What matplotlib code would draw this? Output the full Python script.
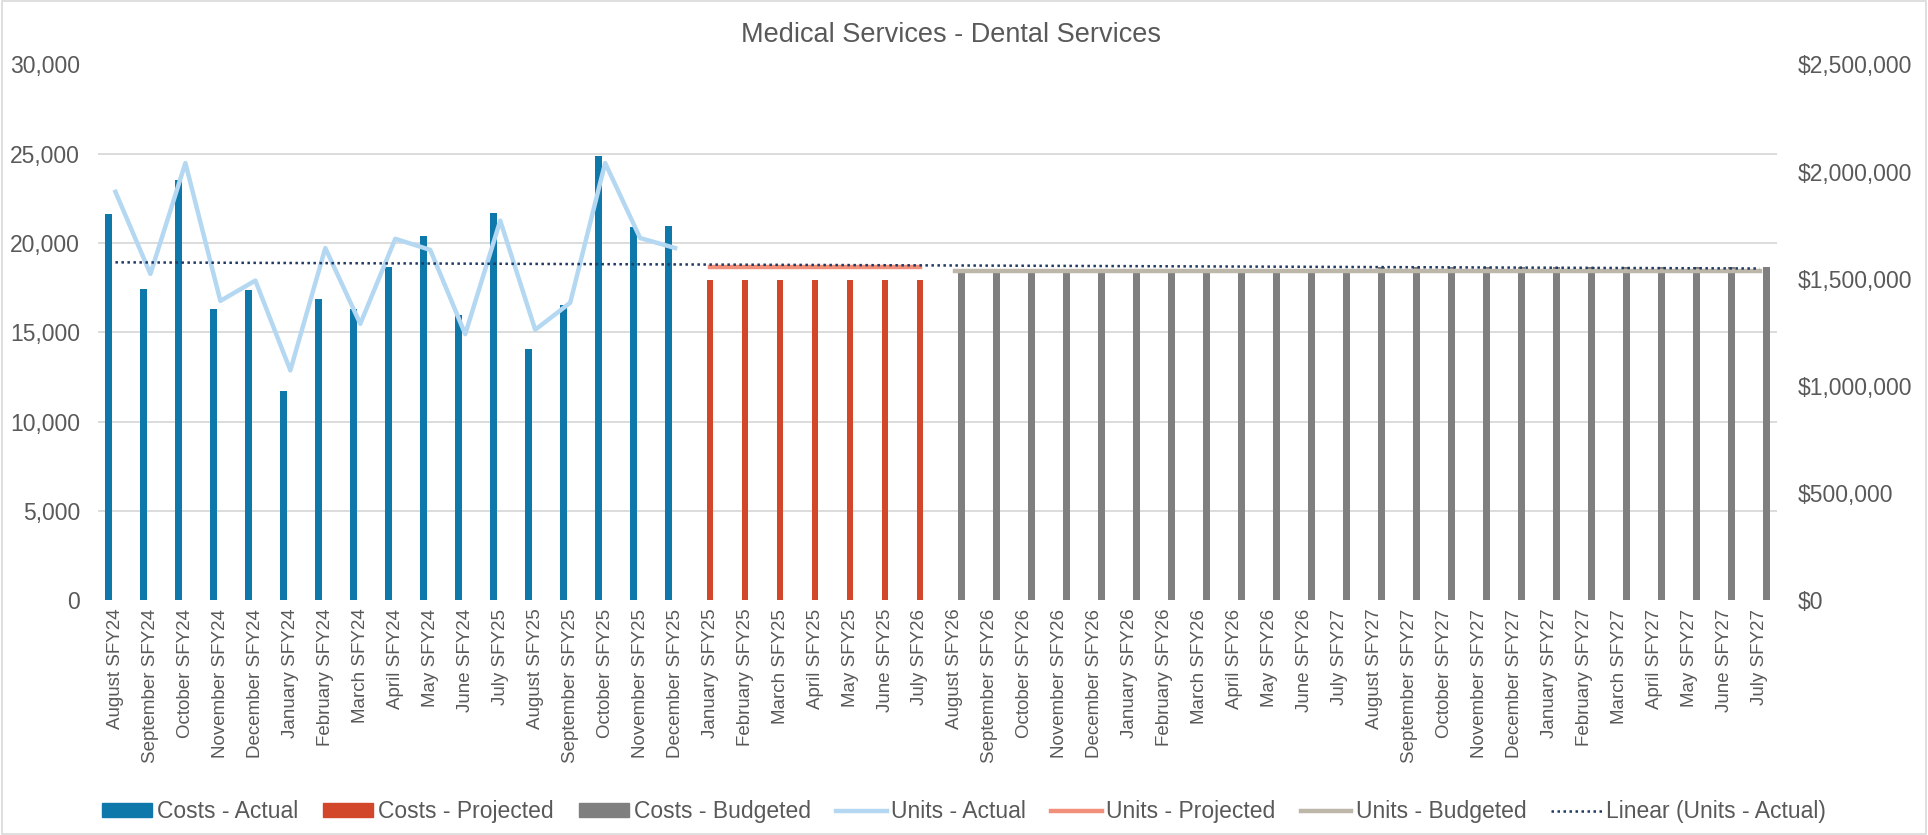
import numpy as np
import matplotlib.pyplot as plt
from matplotlib.patches import Rectangle, Patch
from matplotlib.lines import Line2D
from matplotlib.ticker import FuncFormatter, MultipleLocator

plt.rcParams["font.family"] = ["Liberation Sans", "DejaVu Sans"]

months = ["August", "September", "October", "November", "December", "January",
          "February", "March", "April", "May", "June", "July"]
years = ["SFY24"] * 11 + ["SFY25"] * 12 + ["SFY26"] * 12 + ["SFY27"] * 13
labels = [f"{months[i % 12]} {years[i]}" for i in range(48)]

costs_actual = [1801700, 1453500, 1960300, 1358700, 1446600, 977600, 1406900,
                1356900, 1555200, 1698300, 1331100, 1806900, 1170700, 1375900,
                2074200, 1741400, 1746600]
costs_projected = [1494800] * 7
costs_budgeted = [1527000] * 12 + [1555000] * 12

units_actual = [22862, 18269, 24476, 16759, 17897, 12869, 19718, 15476, 20235,
                19614, 14897, 21249, 15145, 16655, 24476, 20276, 19718]
units_projected = [18683] * 7
units_budgeted = [18414] * 24

c_act = "#0e78aa"
c_proj = "#d2462a"
c_bud = "#7f7f7f"
c_uact = "#b4d8f2"
c_uproj = "#f0907a"
c_ubud = "#bdb7aa"
c_trend = "#1f3864"
txt = "#595959"

x = np.arange(len(labels))
n_a = len(costs_actual)
n_p = len(costs_projected)
xa = x[:n_a]
xp = x[n_a:n_a + n_p]
xb = x[n_a + n_p:]

fig = plt.figure(figsize=(19.28, 8.35), dpi=100)
fig.patches.append(Rectangle((0.001, 0.001), 0.998, 0.998, transform=fig.transFigure,
                             fill=False, edgecolor="#d9d9d9", linewidth=1.2))

# bars (costs) on primary axes; lines (units) on twin axes drawn above
ax = fig.add_axes([0.0508, 0.281, 0.8709, 0.642])
ax2 = ax.twinx()

w = 0.193
ax.bar(xa - w, costs_actual, width=w, color=c_act)
ax.bar(xp, costs_projected, width=w, color=c_proj)
ax.bar(xb + w, costs_budgeted, width=w, color=c_bud)
ax.set_ylim(0, 2500000)
ax.set_xlim(-0.5, len(labels) - 0.5)
ax.yaxis.set_major_locator(MultipleLocator(500000))
# gridlines follow the units axis (every 5,000)
ax.yaxis.set_minor_locator(MultipleLocator(2500000 / 6))
ax.yaxis.set_major_formatter(FuncFormatter(lambda v, p: f"${v:,.0f}"))
ax.grid(axis="y", which="minor", color="#d9d9d9", linewidth=1.3)
ax.grid(axis="y", which="major", visible=False)
ax.set_axisbelow(True)
for s in ax.spines.values():
    s.set_visible(False)
ax.set_xticks(x)
ax.set_xticklabels(labels, rotation=90, fontsize=13.5, color=txt)
ax.tick_params(axis="both", which="both", length=0)
ax.tick_params(axis="x", pad=6)

ax2.set_ylim(0, 30000)
ax2.yaxis.set_major_locator(MultipleLocator(5000))
ax2.yaxis.set_major_formatter(FuncFormatter(lambda v, p: f"{v:,.0f}"))
for s in ax2.spines.values():
    s.set_visible(False)

ax.yaxis.tick_right()
ax2.yaxis.tick_left()
ax.tick_params(axis="y", which="both", length=0, labelsize=16.5, colors=txt, pad=15)
ax2.tick_params(axis="y", length=0, labelsize=16.5, colors=txt, pad=13)

ax2.plot(xa, units_actual, color=c_uact, linewidth=3.2)
ax2.plot(xp, units_projected, color=c_uproj, linewidth=3.2)
ax2.plot(xb, units_budgeted, color=c_ubud, linewidth=3.2)

coef = np.polyfit(xa, units_actual, 1)
ax2.plot(x, np.polyval(coef, x), color=c_trend, linewidth=1.8, linestyle=(0, (1, 1.4)))

fig.text(0.493, 0.958, "Medical Services - Dental Services", ha="center", va="center",
         fontsize=19.5, color=txt)

handles = [Patch(color=c_act), Patch(color=c_proj), Patch(color=c_bud),
           Line2D([], [], color=c_uact, linewidth=3.2),
           Line2D([], [], color=c_uproj, linewidth=3.2),
           Line2D([], [], color=c_ubud, linewidth=3.2),
           Line2D([], [], color=c_trend, linewidth=1.8, linestyle=(0, (1, 1.4)))]
names = ["Costs - Actual", "Costs - Projected", "Costs - Budgeted", "Units - Actual",
         "Units - Projected", "Units - Budgeted", "Linear (Units - Actual)"]
leg = fig.legend(handles, names, loc="center", bbox_to_anchor=(0.5, 0.028), ncol=7,
                 frameon=False, fontsize=16.5, handlelength=2.2, handletextpad=0.2,
                 columnspacing=1.1, handleheight=0.55)
for t in leg.get_texts():
    t.set_color(txt)

fig.savefig("out.png", dpi=100)
